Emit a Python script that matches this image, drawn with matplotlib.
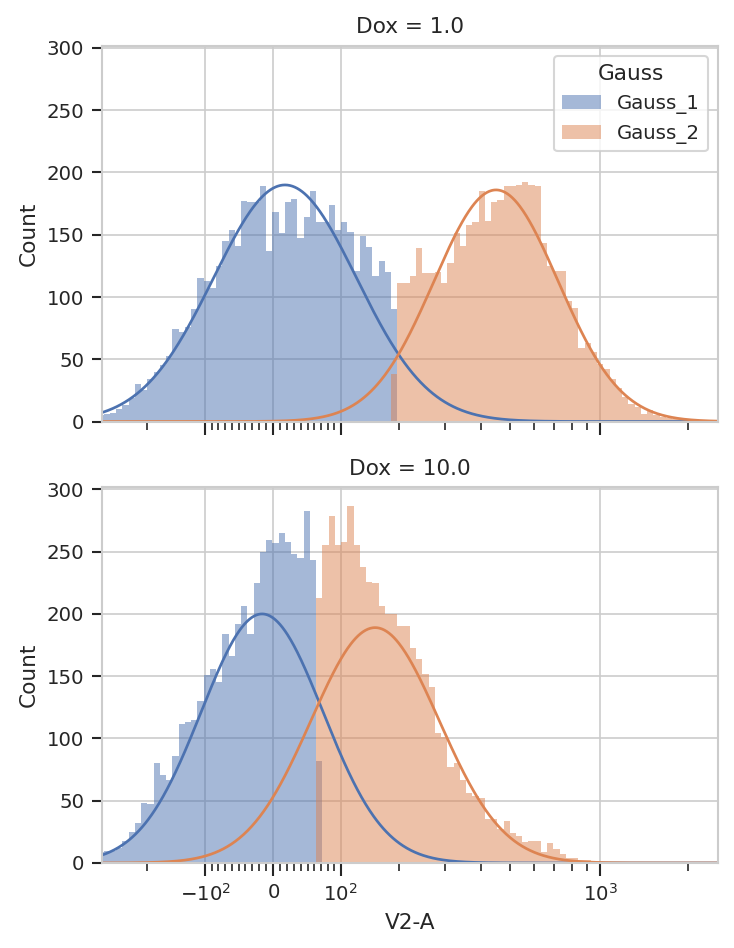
import numpy as np
import matplotlib
matplotlib.use('Agg')
import matplotlib.pyplot as plt
from matplotlib.patches import Patch
from matplotlib.ticker import FixedLocator, FixedFormatter, NullFormatter

# logicle-like axis (biexponential), u = scaled units
SCALE_C = 50.12
SCALE_P = 2.3

# histogram bins, equally spaced in scaled units
BIN_START = -0.6634
BIN_WIDTH = 0.023585

panels = ['Dox = 1.0', 'Dox = 10.0']
components = ['Gauss_1', 'Gauss_2']

# Dox = 1.0
top_g1_first = 0
top_g1_counts = [5, 6, 7, 10, 13, 19, 30, 25, 34, 40, 45, 53, 74, 72, 76, 90,
                 115, 113, 107, 125, 145, 154, 141, 177, 176, 176, 189, 137, 168, 151,
                 176, 179, 147, 164, 185, 160, 160, 174, 154, 160, 152, 121, 149, 140,
                 117, 129, 120, 90]
top_g2_first = 47
top_g2_counts = [38, 111, 111, 117, 139, 119, 119, 120, 111, 127, 151, 141, 158, 160,
                 185, 161, 176, 178, 189, 189, 190, 192, 190, 189, 143, 125, 121, 121,
                 97, 91, 59, 63, 56, 46, 42, 34, 27, 20, 14, 12, 6, 9, 5, 4, 3, 2, 2, 1, 1]

# Dox = 10.0
bot_g1_first = 0
bot_g1_counts = [9, 10, 10, 12, 18, 25, 32, 48, 47, 80, 71, 67, 86, 112, 113, 115,
                 130, 151, 156, 145, 184, 166, 192, 206, 184, 225, 250, 259, 257, 265,
                 258, 248, 245, 283, 243, 82]
bot_g2_first = 35
bot_g2_counts = [213, 255, 279, 255, 258, 287, 255, 238, 226, 225, 206, 200, 200, 190,
                 190, 173, 164, 152, 141, 104, 101, 77, 80, 67, 56, 54, 52, 35, 35, 27,
                 34, 24, 22, 17, 18, 18, 9, 16, 11, 7, 4, 4, 2, 2, 1, 1]

# fitted gaussians (peak count, mean and sd in scaled units)
top_fit = [(190, 0.045, 0.270), (186, 0.8415, 0.234)]
bot_fit = [(200, -0.0415, 0.230), (189, 0.385, 0.2415)]

major_ticks = [-100, 0, 100, 1000]
major_labels = ['$-10^2$', '$0$', '$10^2$', '$10^3$']
minor_ticks = ([-200] + list(range(-90, 0, 10)) + list(range(10, 100, 10))
               + list(range(200, 1000, 100)) + [2000])


def to_data(u):
    u = np.asarray(u, dtype=float)
    a = np.abs(u)
    v = SCALE_C * (10 ** a - SCALE_P ** 2 * 10 ** (-a / SCALE_P) + SCALE_P ** 2 - 1)
    return np.sign(u) * v


_grid_u = np.linspace(-5, 5, 40001)
_grid_x = to_data(_grid_u)


def to_scaled(x):
    return np.interp(np.asarray(x, dtype=float), _grid_x, _grid_u)


plt.rcParams.update({
    'font.family': 'DejaVu Sans',
    'font.size': 10.4,
    'axes.labelsize': 10.4,
    'axes.titlesize': 10.4,
    'xtick.labelsize': 9.5,
    'ytick.labelsize': 9.5,
    'legend.fontsize': 9.5,
    'legend.title_fontsize': 10.4,
    'text.color': '.15',
    'axes.labelcolor': '.15',
    'xtick.color': '.15',
    'ytick.color': '.15',
    'axes.edgecolor': '.8',
    'axes.linewidth': 1.0,
    'axes.grid': True,
    'axes.axisbelow': True,
    'grid.color': '.8',
    'grid.linewidth': 0.8,
    'xtick.major.size': 6,
    'xtick.minor.size': 4,
    'xtick.major.width': 1.0,
    'xtick.minor.width': 0.8,
    'ytick.major.size': 4.8,
    'ytick.major.width': 1.0,
    'legend.edgecolor': '.8',
})

colors = ['#4C72B0', '#DD8452']

fig, axes = plt.subplots(2, 1, sharex=True, figsize=(734 / 150, 948 / 150), dpi=150)
fig.subplots_adjust(left=0.1383, right=0.9782, top=0.9515, bottom=0.0897, hspace=0.1755)

hists = [
    [(top_g1_first, top_g1_counts), (top_g2_first, top_g2_counts)],
    [(bot_g1_first, bot_g1_counts), (bot_g2_first, bot_g2_counts)],
]
fits = [top_fit, bot_fit]

u_line = np.linspace(-0.7, 1.75, 800)

for ax, title, hist, fit in zip(axes, panels, hists, fits):
    ax.set_xscale('function', functions=(to_scaled, to_data))
    for (first, counts), color in zip(hist, colors):
        idx = np.arange(first, first + len(counts) + 1)
        edges = to_data(BIN_START + BIN_WIDTH * idx)
        ax.stairs(counts, edges, fill=True, color=color, alpha=0.5, linewidth=0)
    for (peak, mu, sd), color in zip(fit, colors):
        y = peak * np.exp(-(u_line - mu) ** 2 / (2 * sd ** 2))
        ax.plot(to_data(u_line), y, color=color, linewidth=1.3)
    ax.set_xlim(-299, 2560)
    ax.set_ylim(0, 301.6)
    ax.set_yticks([0, 50, 100, 150, 200, 250, 300])
    ax.xaxis.set_major_locator(FixedLocator(major_ticks))
    ax.xaxis.set_major_formatter(FixedFormatter(major_labels))
    ax.xaxis.set_minor_locator(FixedLocator(minor_ticks))
    ax.xaxis.set_minor_formatter(NullFormatter())
    ax.grid(False, which='minor')
    ax.set_ylabel('Count')
    ax.set_title(title)

axes[1].set_xlabel('V2-A')

handles = [Patch(facecolor=c, alpha=0.5) for c in colors]
axes[0].legend(handles, components, title='Gauss', loc='upper right')

fig.savefig('out.png', dpi=150)
